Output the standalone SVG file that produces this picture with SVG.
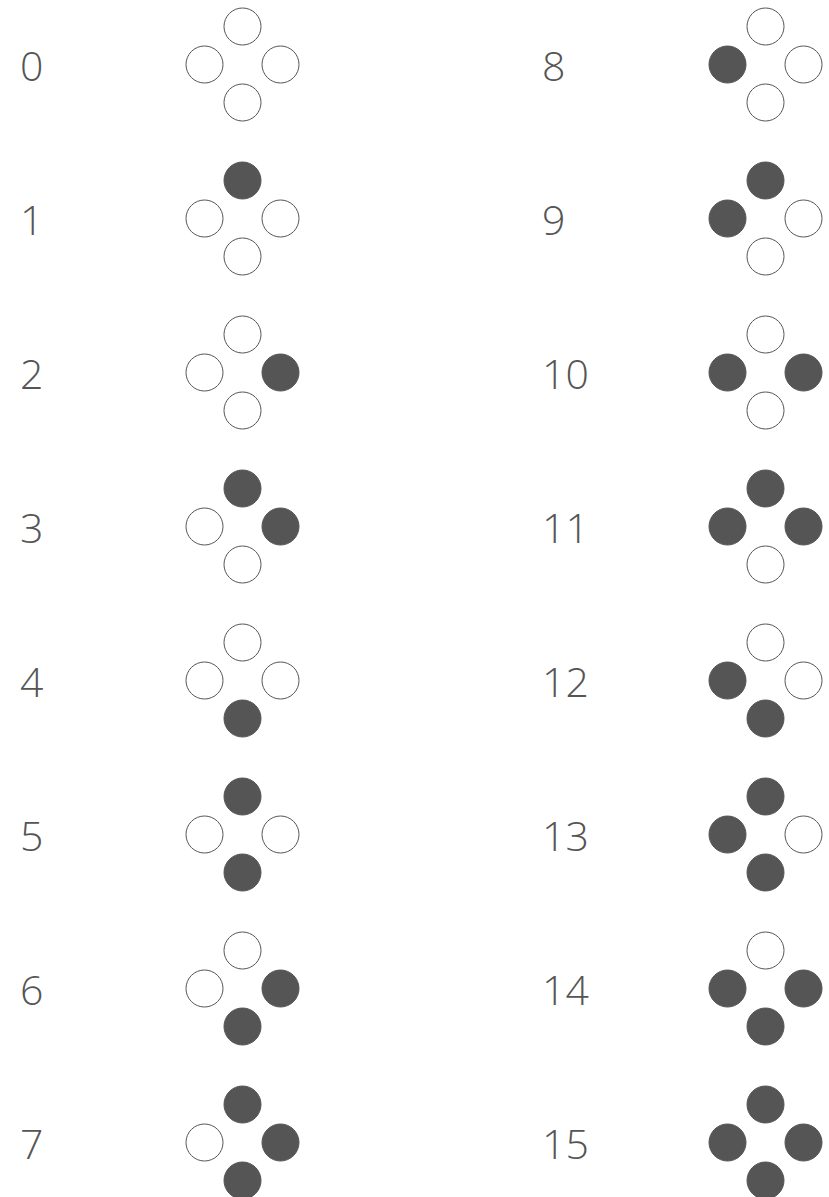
<svg xmlns="http://www.w3.org/2000/svg" width="829" height="1197" viewBox="0 0 829 1197">
<style>
.lbl{font-family:"Open Sans","Liberation Sans",sans-serif;font-weight:300;font-size:41px;fill:#555}
.off{fill:#fff;stroke:#555;stroke-width:1}
.on{fill:#555;stroke:#555;stroke-width:1}
</style>
<rect width="829" height="1197" fill="#fff"/>
<g id="n0"><text class="lbl" x="20" y="80.5">0</text><circle class="off" cx="242.5" cy="26.5" r="18.5"/><circle class="off" cx="280.5" cy="64.5" r="18.5"/><circle class="off" cx="242.5" cy="102.5" r="18.5"/><circle class="off" cx="204.5" cy="64.5" r="18.5"/></g>
<g id="n1"><text class="lbl" x="20" y="234.5">1</text><circle class="on" cx="242.5" cy="180.5" r="18.5"/><circle class="off" cx="280.5" cy="218.5" r="18.5"/><circle class="off" cx="242.5" cy="256.5" r="18.5"/><circle class="off" cx="204.5" cy="218.5" r="18.5"/></g>
<g id="n2"><text class="lbl" x="20" y="388.5">2</text><circle class="off" cx="242.5" cy="334.5" r="18.5"/><circle class="on" cx="280.5" cy="372.5" r="18.5"/><circle class="off" cx="242.5" cy="410.5" r="18.5"/><circle class="off" cx="204.5" cy="372.5" r="18.5"/></g>
<g id="n3"><text class="lbl" x="20" y="542.5">3</text><circle class="on" cx="242.5" cy="488.5" r="18.5"/><circle class="on" cx="280.5" cy="526.5" r="18.5"/><circle class="off" cx="242.5" cy="564.5" r="18.5"/><circle class="off" cx="204.5" cy="526.5" r="18.5"/></g>
<g id="n4"><text class="lbl" x="20" y="696.5">4</text><circle class="off" cx="242.5" cy="642.5" r="18.5"/><circle class="off" cx="280.5" cy="680.5" r="18.5"/><circle class="on" cx="242.5" cy="718.5" r="18.5"/><circle class="off" cx="204.5" cy="680.5" r="18.5"/></g>
<g id="n5"><text class="lbl" x="20" y="850.5">5</text><circle class="on" cx="242.5" cy="796.5" r="18.5"/><circle class="off" cx="280.5" cy="834.5" r="18.5"/><circle class="on" cx="242.5" cy="872.5" r="18.5"/><circle class="off" cx="204.5" cy="834.5" r="18.5"/></g>
<g id="n6"><text class="lbl" x="20" y="1004.5">6</text><circle class="off" cx="242.5" cy="950.5" r="18.5"/><circle class="on" cx="280.5" cy="988.5" r="18.5"/><circle class="on" cx="242.5" cy="1026.5" r="18.5"/><circle class="off" cx="204.5" cy="988.5" r="18.5"/></g>
<g id="n7"><text class="lbl" x="20" y="1158.5">7</text><circle class="on" cx="242.5" cy="1104.5" r="18.5"/><circle class="on" cx="280.5" cy="1142.5" r="18.5"/><circle class="on" cx="242.5" cy="1180.5" r="18.5"/><circle class="off" cx="204.5" cy="1142.5" r="18.5"/></g>
<g id="n8"><text class="lbl" x="542" y="80.5">8</text><circle class="off" cx="765.5" cy="26.5" r="18.5"/><circle class="off" cx="803.5" cy="64.5" r="18.5"/><circle class="off" cx="765.5" cy="102.5" r="18.5"/><circle class="on" cx="727.5" cy="64.5" r="18.5"/></g>
<g id="n9"><text class="lbl" x="542" y="234.5">9</text><circle class="on" cx="765.5" cy="180.5" r="18.5"/><circle class="off" cx="803.5" cy="218.5" r="18.5"/><circle class="off" cx="765.5" cy="256.5" r="18.5"/><circle class="on" cx="727.5" cy="218.5" r="18.5"/></g>
<g id="n10"><text class="lbl" x="542" y="388.5">10</text><circle class="off" cx="765.5" cy="334.5" r="18.5"/><circle class="on" cx="803.5" cy="372.5" r="18.5"/><circle class="off" cx="765.5" cy="410.5" r="18.5"/><circle class="on" cx="727.5" cy="372.5" r="18.5"/></g>
<g id="n11"><text class="lbl" x="542" y="542.5">11</text><circle class="on" cx="765.5" cy="488.5" r="18.5"/><circle class="on" cx="803.5" cy="526.5" r="18.5"/><circle class="off" cx="765.5" cy="564.5" r="18.5"/><circle class="on" cx="727.5" cy="526.5" r="18.5"/></g>
<g id="n12"><text class="lbl" x="542" y="696.5">12</text><circle class="off" cx="765.5" cy="642.5" r="18.5"/><circle class="off" cx="803.5" cy="680.5" r="18.5"/><circle class="on" cx="765.5" cy="718.5" r="18.5"/><circle class="on" cx="727.5" cy="680.5" r="18.5"/></g>
<g id="n13"><text class="lbl" x="542" y="850.5">13</text><circle class="on" cx="765.5" cy="796.5" r="18.5"/><circle class="off" cx="803.5" cy="834.5" r="18.5"/><circle class="on" cx="765.5" cy="872.5" r="18.5"/><circle class="on" cx="727.5" cy="834.5" r="18.5"/></g>
<g id="n14"><text class="lbl" x="542" y="1004.5">14</text><circle class="off" cx="765.5" cy="950.5" r="18.5"/><circle class="on" cx="803.5" cy="988.5" r="18.5"/><circle class="on" cx="765.5" cy="1026.5" r="18.5"/><circle class="on" cx="727.5" cy="988.5" r="18.5"/></g>
<g id="n15"><text class="lbl" x="542" y="1158.5">15</text><circle class="on" cx="765.5" cy="1104.5" r="18.5"/><circle class="on" cx="803.5" cy="1142.5" r="18.5"/><circle class="on" cx="765.5" cy="1180.5" r="18.5"/><circle class="on" cx="727.5" cy="1142.5" r="18.5"/></g>
<g id="connectors"/>
</svg>
